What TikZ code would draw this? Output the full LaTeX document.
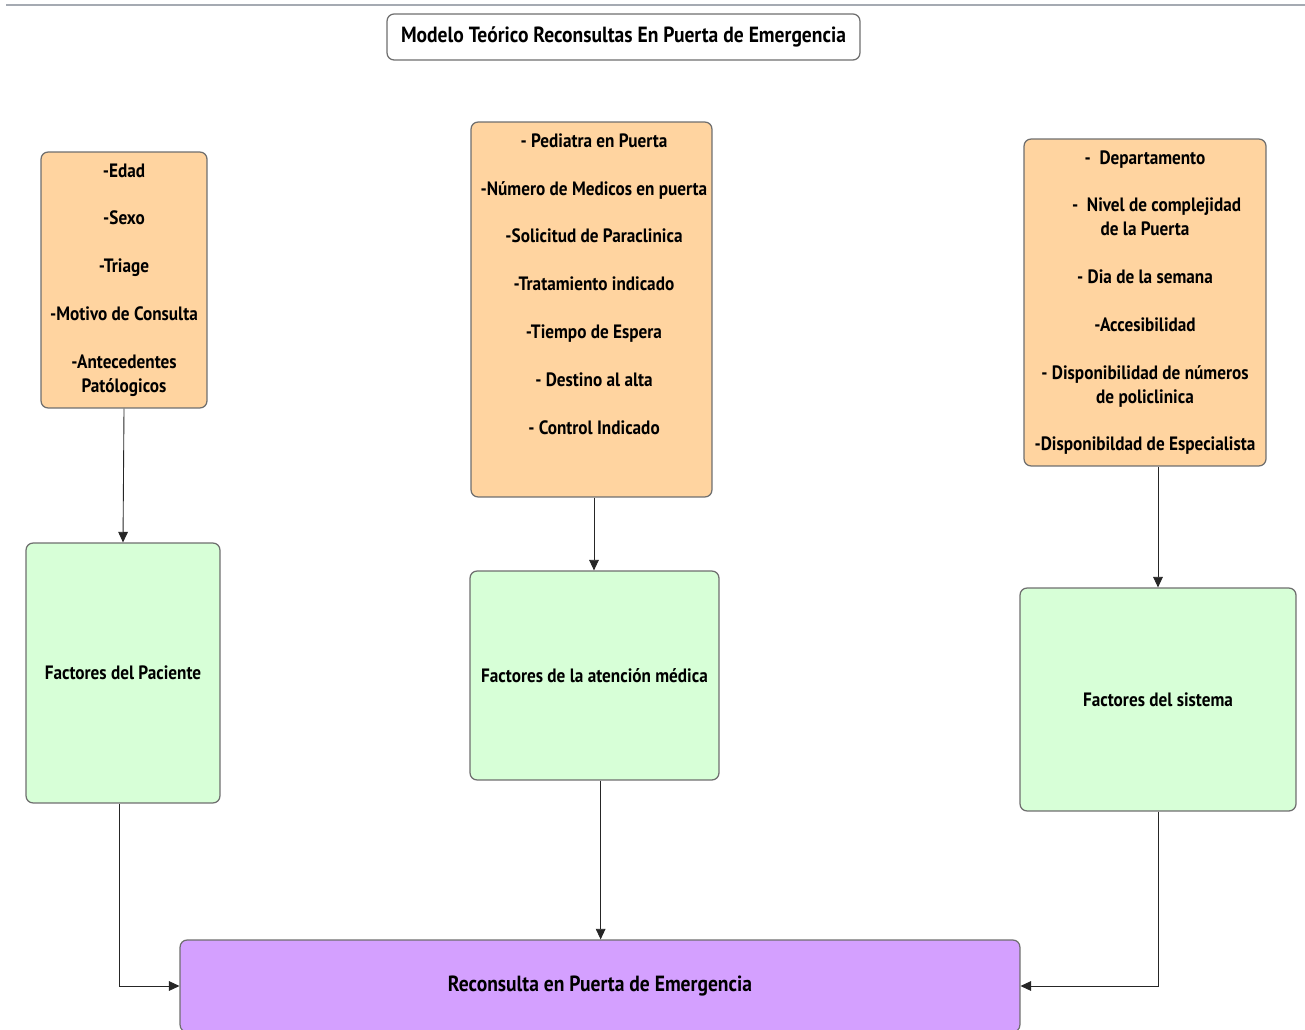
\documentclass[tikz,border=0pt]{standalone}
\usepackage{fontspec}
\newfontfamily\boxfont{PT Sans}[FakeStretch=0.89]
\usetikzlibrary{arrows.meta}

\definecolor{topline}{RGB}{165,170,178}
\definecolor{factfill}{RGB}{255,212,160}
\definecolor{groupfill}{RGB}{215,255,215}
\definecolor{resfill}{RGB}{212,160,255}
\definecolor{boxline}{RGB}{110,110,110}

\begin{document}
\begin{tikzpicture}[x=0.02cm, y=-0.02cm, >={Triangle[length=6pt,width=5.5pt]},
  box/.style={draw=boxline, line width=0.7pt, rounded corners=4pt, inner sep=0pt,
    align=center, font=\boxfont\bfseries\fontsize{11}{13.6}\selectfont},
  titlebox/.style={box, fill=white, font=\boxfont\bfseries\fontsize{12.5}{15}\selectfont},
  factbox/.style={box, fill=factfill},
  groupbox/.style={box, fill=groupfill},
  resbox/.style={box, fill=resfill, font=\boxfont\bfseries\fontsize{12.5}{15}\selectfont},
  itemtext/.style={align=center, inner sep=0pt, font=\boxfont\bfseries\fontsize{11}{13.6}\selectfont},
  link/.style={->, draw=black!85, line width=0.5pt}]
  \useasboundingbox (0,0) rectangle (1305,1030);
  \draw[topline, line width=1.2pt] (6,5) -- (1305,5);

  \node[titlebox, minimum width=9.46cm, minimum height=0.92cm] (title) at (623.5,37)
    {Modelo Teórico Reconsultas En Puerta de Emergencia};

  % factores
  \node[factbox, minimum width=3.32cm, minimum height=5.12cm] (pac) at (124,280)
    {-Edad\\[13.6pt] -Sexo\\[13.6pt] -Triage\\[13.6pt] -Motivo de Consulta\\[13.6pt]
     -Antecedentes\\ Patólogicos};
  \node[factbox, minimum width=4.82cm, minimum height=7.5cm] (med) at (591.5,309.5) {};
  \node[itemtext] (medtxt) at (594,284)
    {- Pediatra en Puerta\\[13.6pt] -Número de Medicos en puerta\\[13.6pt]
     -Solicitud de Paraclinica\\[13.6pt] -Tratamiento indicado\\[13.6pt]
     -Tiempo de Espera\\[13.6pt] - Destino al alta\\[13.6pt] - Control Indicado};
  \node[factbox, minimum width=4.84cm, minimum height=6.54cm] (sis) at (1145,302.5)
    {-~ Departamento\\[13.6pt] \hspace*{1.2em}-~ Nivel de complejidad\\ de la Puerta\\[13.6pt]
     - Dia de la semana\\[13.6pt] -Accesibilidad\\[13.6pt]
     - Disponibilidad de números\\ de policlinica\\[13.6pt]
     -Disponibildad de Especialista};

  % grupos
  \node[groupbox, minimum width=3.88cm, minimum height=5.2cm] (pacF) at (123,673)
    {Factores del Paciente};
  \node[groupbox, minimum width=4.98cm, minimum height=4.18cm] (medF) at (594.5,675.5)
    {Factores de la atención médica};
  \node[groupbox, minimum width=5.52cm, minimum height=4.46cm] (sisF) at (1158,699.5)
    {Factores del sistema};

  \node[resbox, minimum width=16.8cm, minimum height=1.84cm] (reco) at (600,986)
    {Reconsulta en Puerta de Emergencia};

  \draw[link] (pac.south) -- (pacF.north);
  \draw[link] (med.south -| medtxt.center) -- (medF.north -| medtxt.center);
  \draw[link] (sis.south -| sisF.north) -- (sisF.north);
  \draw[link] ([xshift=-2]pacF.south) |- (reco.west);
  \draw[link] ([xshift=3.5]medF.south) -- ([xshift=3.5]medF.south |- reco.north);
  \draw[link] (sisF.south) |- (reco.east);
\end{tikzpicture}
\end{document}
